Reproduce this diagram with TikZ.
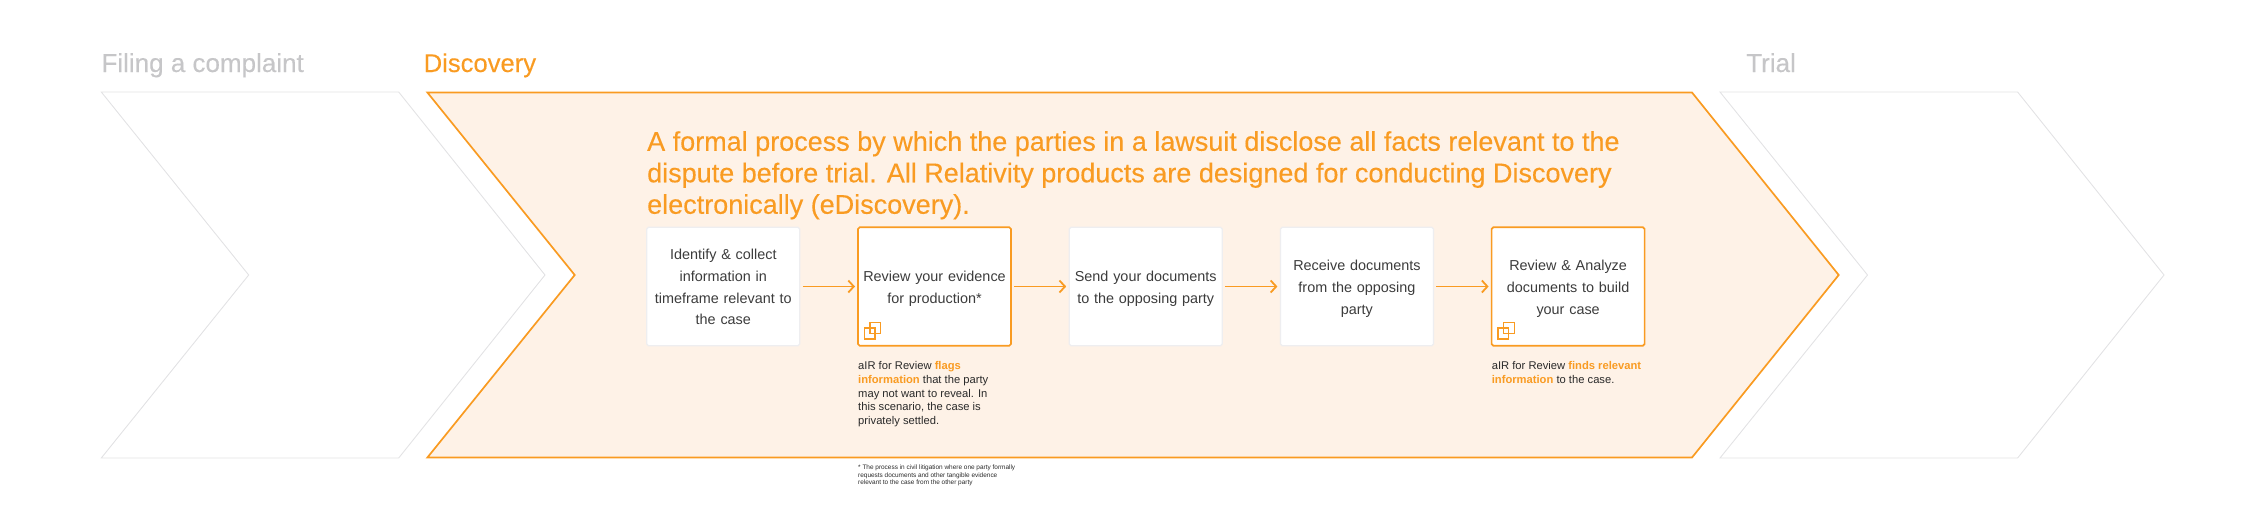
\documentclass[tikz,border=0pt]{standalone}
\usepackage{fontspec}
\setmainfont{Liberation Sans}
\newfontfamily\medfont[FakeBold=0.25]{Liberation Sans}
\usetikzlibrary{arrows.meta}
\definecolor{org}{HTML}{F99B22}
\definecolor{pale}{HTML}{FEF2E7}
\definecolor{gtext}{HTML}{C6C6C8}
\definecolor{gline}{HTML}{E2E2E4}
\definecolor{dark}{HTML}{3C3C3C}
\definecolor{notec}{HTML}{2A2A2A}
\definecolor{boxline}{HTML}{EEEEF0}
\tikzset{
  x=1pt,y=-1pt,
  chev/.style={draw=gline,line width=0.9pt,line join=miter},
  chevon/.style={draw=org,fill=pale,line width=1.7pt,line join=miter},
  phase/.style={anchor=base west,inner sep=0pt,font=\medfont\fontsize{26}{30}\selectfont},
  stepbox/.style={draw=boxline,fill=white,line width=1.2pt,rounded corners=1.8pt,outer sep=0pt,minimum width=153pt,minimum height=118.6pt,inner sep=0pt,anchor=north west,align=center,text=dark,text width=150pt,font=\fontsize{14.4}{21.7}\selectfont},
  stepon/.style={stepbox,draw=org,line width=1.7pt},
  arr/.style={draw=org,line width=1.8pt,-{Straight Barb[length=5.5pt,width=12pt,line width=1.8pt]},shorten <=3pt,shorten >=3pt},
  note/.style={anchor=north west,inner sep=0pt,align=left,text=notec,font=\fontsize{11.2}{13.6}\selectfont},
  foot/.style={anchor=north west,inner sep=0pt,align=left,text=notec,font=\fontsize{6.45}{7.7}\selectfont},
  icon/.style={draw=org,line width=1.3pt},
}
\newcommand{\hot}[1]{\textcolor{org}{\bfseries #1}}
\newcommand{\tstrut}{\rule{0pt}{18.2pt}}
\begin{document}
\begin{tikzpicture}
\useasboundingbox (0,0) rectangle (2266,530);
% chevrons
\draw[chev] (101.3,92) -- (398.7,92) -- (545,275) -- (398.7,458) -- (101.3,458) -- (248.7,275) -- cycle;
\draw[chev] (1720,92) -- (2017.6,92) -- (2164,275) -- (2017.6,458) -- (1720,458) -- (1867.5,275) -- cycle;
\draw[chevon] (427.4,92.5) -- (1692,92.5) -- (1838.7,275) -- (1692,457.5) -- (427.4,457.5) -- (574.7,275) -- cycle;
% phase labels
\node[phase,text=gtext] (filing) at (101.3,72) {Filing a complaint};
\node[phase,text=org] (disc) at (423.5,72) {\fontsize{25.6}{30}\selectfont Discovery};
\node[phase,text=gtext] (trial) at (1746,72) {Trial};
% heading
\node[anchor=north west,inner sep=0pt,align=left,text=org,font=\medfont\fontsize{27}{31.5}\selectfont] (head) at (647,131) {A formal process by which the parties in a lawsuit disclose all facts relevant to the\\dispute before trial. All Relativity products are designed for conducting Discovery\\electronically (eDiscovery).};
% boxes
\node[stepbox] (b1) at (646.8,227.2) {\tstrut Identify \& collect\\information in\\timeframe relevant to\\the case\strut};
\node[stepon] (b2) at (858,227.2) {\tstrut Review your evidence\\for production*\strut};
\node[stepbox] (b3) at (1069.2,227.2) {\tstrut Send your documents\\to the opposing party\strut};
\node[stepbox] (b4) at (1280.4,227.2) {\tstrut Receive documents\\from the opposing\\party\strut};
\node[stepon] (b5) at (1491.6,227.2) {\tstrut Review \& Analyze\\documents to build\\your case\strut};
\draw[arr] (b1) -- (b2);
\draw[arr] (b2) -- (b3);
\draw[arr] (b3) -- (b4);
\draw[arr] (b4) -- (b5);
% icons
\draw[icon] (864.3,328) rectangle (875,339);
\draw[icon] (870,322.3) rectangle (880.7,333.3);
\draw[icon] (1497.9,328) rectangle (1508.6,339);
\draw[icon] (1503.6,322.3) rectangle (1514.3,333.3);
% notes
\node[note] (n1) at (858,361.5) {aIR for Review \hot{flags}\\\hot{information} that the party\\may not want to reveal. In\\this scenario, the case is\\privately settled.};
\node[note] (n2) at (1491.6,361.5) {aIR for Review \hot{finds relevant}\\\hot{information} to the case.};
\node[foot] (fn) at (858,464.5) {* The process in civil litigation where one party formally\\requests documents and other tangible evidence\\relevant to the case from the other party};
\end{tikzpicture}
\end{document}
